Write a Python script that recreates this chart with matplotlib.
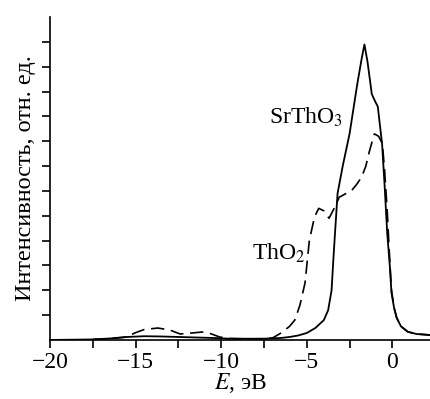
import matplotlib.pyplot as plt

plt.rcParams["font.family"] = ["Liberation Serif", "DejaVu Serif"]
plt.rcParams["mathtext.fontset"] = "stix"

# SrThO3 (solid)
e_srtho3 = [-20, -17.5, -16.5, -15.5, -14.5, -13.5, -12.5, -11.5, -10.5, -9.5,
            -8.5, -7.5, -6.5, -6.0, -5.5, -5.0, -4.5, -4.0, -3.75, -3.55,
            -3.45, -3.35, -3.2, -2.9, -2.5, -2.05, -1.8, -1.63, -1.45, -1.2,
            -1.0, -0.85, -0.6, -0.45, -0.3, -0.15, -0.05, 0.1, 0.25, 0.5,
            0.9, 1.4, 2.2]
i_srtho3 = [0.0, 0.02, 0.06, 0.12, 0.15, 0.14, 0.12, 0.1, 0.08, 0.05,
            0.05, 0.05, 0.08, 0.12, 0.18, 0.28, 0.48, 0.8, 1.2, 2.0,
            3.2, 4.3, 5.9, 7.0, 8.3, 10.3, 11.3, 11.9, 11.2, 9.9,
            9.6, 9.4, 7.9, 6.2, 4.3, 3.0, 1.9, 1.3, 0.9, 0.55,
            0.33, 0.24, 0.2]

# ThO2 (dashed)
e_tho2 = [-17.5, -16.5, -15.5, -15.05, -14.5, -13.7, -13.0, -12.4, -11.7,
          -11.1, -10.6, -10.1, -9.5, -8.5, -7.5, -7.0, -6.5, -6.0, -5.7,
          -5.4, -5.1, -4.85, -4.55, -4.3, -4.0, -3.7, -3.4, -3.1, -2.7,
          -2.4, -2.1, -1.8, -1.55, -1.34, -1.05, -0.8, -0.58, -0.45, -0.3,
          -0.15, -0.05, 0.1, 0.25, 0.5, 0.9, 1.4, 2.2]
i_tho2 = [0.02, 0.05, 0.12, 0.28, 0.42, 0.48, 0.4, 0.24, 0.28,
          0.32, 0.25, 0.12, 0.06, 0.04, 0.05, 0.08, 0.28, 0.55, 0.8,
          1.4, 2.3, 4.0, 4.95, 5.3, 5.2, 4.9, 5.3, 5.75, 5.9,
          6.0, 6.25, 6.55, 7.0, 7.6, 8.3, 8.2, 7.9, 6.8, 5.2,
          3.2, 2.0, 1.3, 0.9, 0.55, 0.33, 0.24, 0.2]

fig = plt.figure(figsize=(4.30, 3.99), dpi=100)
ax = fig.add_axes([0.1163, 0.148, 0.8837, 0.809])

ax.plot(e_srtho3, i_srtho3, color="k", lw=1.3)
ax.plot(e_tho2, i_tho2, color="k", lw=1.2, dashes=(8, 4))

ax.set_xlim(-20, 2.2)
ax.set_ylim(0, 13)
ax.set_xticks([-20, -15, -10, -5, 0])
ax.set_xticklabels(["\u221220", "\u221215", "\u221210", "\u22125", "0"])
ax.set_xticks([-17.5, -12.5, -7.5, -2.5], minor=True)
ax.set_yticks(range(1, 13))
ax.set_yticklabels([])
ax.tick_params(axis="both", direction="out", length=6, width=1.2,
               labelsize=17, pad=3)
ax.tick_params(axis="x", which="minor", direction="out", length=6, width=1.2)
for side in ("top", "right"):
    ax.spines[side].set_visible(False)
for side in ("left", "bottom"):
    ax.spines[side].set_linewidth(1.2)

ax.set_xlabel("$E$, эВ", fontsize=17, labelpad=-2)
ax.set_ylabel("Интенсивность, отн. ед.", fontsize=17.5, labelpad=1)

ax.text(-2.9, 8.95, "SrThO$_3$", fontsize=17, ha="right", va="center")
ax.text(-5.1, 3.5, "ThO$_2$", fontsize=17, ha="right", va="center")

fig.savefig("out.png", dpi=100)
